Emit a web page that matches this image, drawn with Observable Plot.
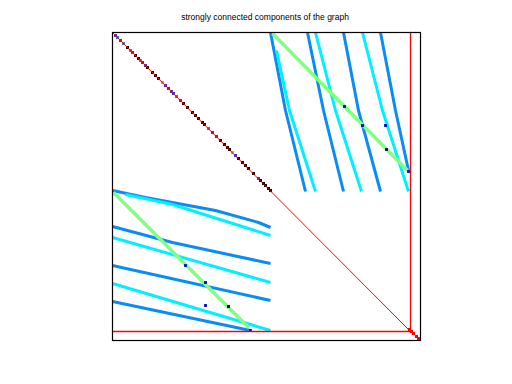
<!DOCTYPE html>
<html>
<head>
<meta charset="utf-8">
<script src="https://cdn.jsdelivr.net/npm/d3@7"></script>
<script src="https://cdn.jsdelivr.net/npm/@observablehq/plot@0.6"></script>
<style>
  html, body { margin: 0; padding: 0; background: #fff; }
</style>
</head>
<body>
<div id="chart"></div>
<script>
// Matrix size (rows = cols)
const N = 308;
const title = "strongly connected components of the graph";

// Upper-right block polylines [col,row]
const upperBlue = [
  [[158,0],[173,78],[193,159]],
  [[195,0],[211,78],[231,159]],
  [[231,0],[246,78],[268,159]],
  [[268,0],[283,78],[296,138]]
];
const upperCyan = [
  [[164,18],[177,78],[203,159]],
  [[203,0],[223,78],[249,159]],
  [[250,0],[270,78],[296,159]]
];
const upperGreen = [[160,1],[295,138]];

// Lower-left block polylines [col,row]
const lowerBlue = [
  [[0,158],[33,165],[60,170],[103,178],[146,190],[158,195]],
  [[0,194],[60,210],[158,231]],
  [[0,233],[158,268]],
  [[0,269],[138,298]]
];
const lowerCyan = [
  [[13,162],[60,172],[158,203]],
  [[0,205],[158,250]],
  [[0,251],[158,298]]
];
const lowerGreen = [[1,160],[136,295]];

// Dark blue / black entries off the diagonal [col,row,colour]
const offDots = [
  [232,74,"#0000d0"],[250,93,"#0000d0"],[273,93,"#0000d0"],[274,117,"#000080"],[296,139,"#0000d0"],
  [73,233,"#0000d0"],[93,250,"#0000d0"],[93,273,"#0000d0"],[116,274,"#000030"],[138,298,"#0000d0"]
];

// Diagonal entries of the first block [index, colour class]
const diagIdx = [3,5,8,11,15,18,20,23,26,28,30,33,35,40,43,46,50,53,56,59,61,64,68,71,75,80,83,86,90,92,96,100,104,108,112,115,117,120,123,126,130,133,136,141,146,148,151,153,156,158];
const diagCls = ["b","d","b","d","k","d","b","k","k","d","b","b","k","k","k","k","c","b","b","b","b","d","b","k","k","k","k","k","k","k","d","b","b","k","k","k","k","c","b","k","k","k","k","k","b","k","k","k","k","k"];

// Small red blocks at the bottom-right corner
const cornerIdx = [297,299,301,304,306,307];

// Red separators and diagonal
const redDiag = [[0,0],[298,299]];
const sepCol = 298, sepRow = 299;

const palette = {b:"#1a3cff", d:"#008cff", c:"#00e8ff", k:"#000000"};
const BLUE = "#0a8cf5", CYAN = "#00f0ff", GREEN = "#80ff80", RED = "#ff0000";

function flat(lines) {
  const out = [];
  lines.forEach((l, i) => l.forEach(([x, y]) => out.push({x, y, id: i})));
  return out;
}

const diag = diagIdx.map((i, k) => ({i, c: palette[diagCls[k]]}));
const sepV = [{x: sepCol, y: 0}, {x: sepCol, y: sepRow}];
const sepH = [{x: 0, y: sepRow}, {x: sepCol, y: sepRow}];

const lw = 3;
const chart = Plot.plot({
  width: 512,
  height: 384,
  marginLeft: 112,
  marginRight: 92,
  marginTop: 32,
  marginBottom: 44,
  x: {domain: [0, N], axis: null},
  y: {domain: [0, N], reverse: true, axis: null},
  style: {background: "#fff"},
  marks: [
    Plot.line(flat(upperBlue), {x: "x", y: "y", z: "id", stroke: BLUE, strokeWidth: lw, strokeLinecap: "butt"}),
    Plot.line(flat(lowerBlue), {x: "x", y: "y", z: "id", stroke: BLUE, strokeWidth: lw, strokeLinecap: "butt"}),
    Plot.line(flat(upperCyan), {x: "x", y: "y", z: "id", stroke: CYAN, strokeWidth: lw, strokeLinecap: "butt"}),
    Plot.line(flat(lowerCyan), {x: "x", y: "y", z: "id", stroke: CYAN, strokeWidth: lw, strokeLinecap: "butt"}),
    Plot.line(upperGreen, {x: d => d[0], y: d => d[1], stroke: GREEN, strokeWidth: 3.5, strokeLinecap: "butt"}),
    Plot.line(lowerGreen, {x: d => d[0], y: d => d[1], stroke: GREEN, strokeWidth: 3.5, strokeLinecap: "butt"}),
    Plot.dot(offDots, {x: d => d[0], y: d => d[1], fill: d => d[2], symbol: "square", r: 1.6, stroke: null}),
    Plot.dot(diag, {x: "i", y: "i", fill: "c", symbol: "square", r: 1.7, stroke: null}),
    Plot.line(redDiag, {x: d => d[0], y: d => d[1], stroke: RED, strokeWidth: 1}),
    Plot.line(sepV, {x: "x", y: "y", stroke: RED, strokeWidth: 1.3}),
    Plot.line(sepH, {x: "x", y: "y", stroke: RED, strokeWidth: 1.3}),
    Plot.dot(cornerIdx, {x: d => d, y: d => d, fill: RED, symbol: "square", r: 1.7, stroke: null}),
    Plot.frame({stroke: "#000", strokeWidth: 1.2}),
    Plot.text([title], {frameAnchor: "top", lineAnchor: "bottom", dy: -13, dx: -1.5, fontSize: 8.5, fontFamily: "Liberation Sans, Arial, sans-serif", fill: "#000"})
  ]
});
document.getElementById("chart").appendChild(chart);
</script>
</body>
</html>
